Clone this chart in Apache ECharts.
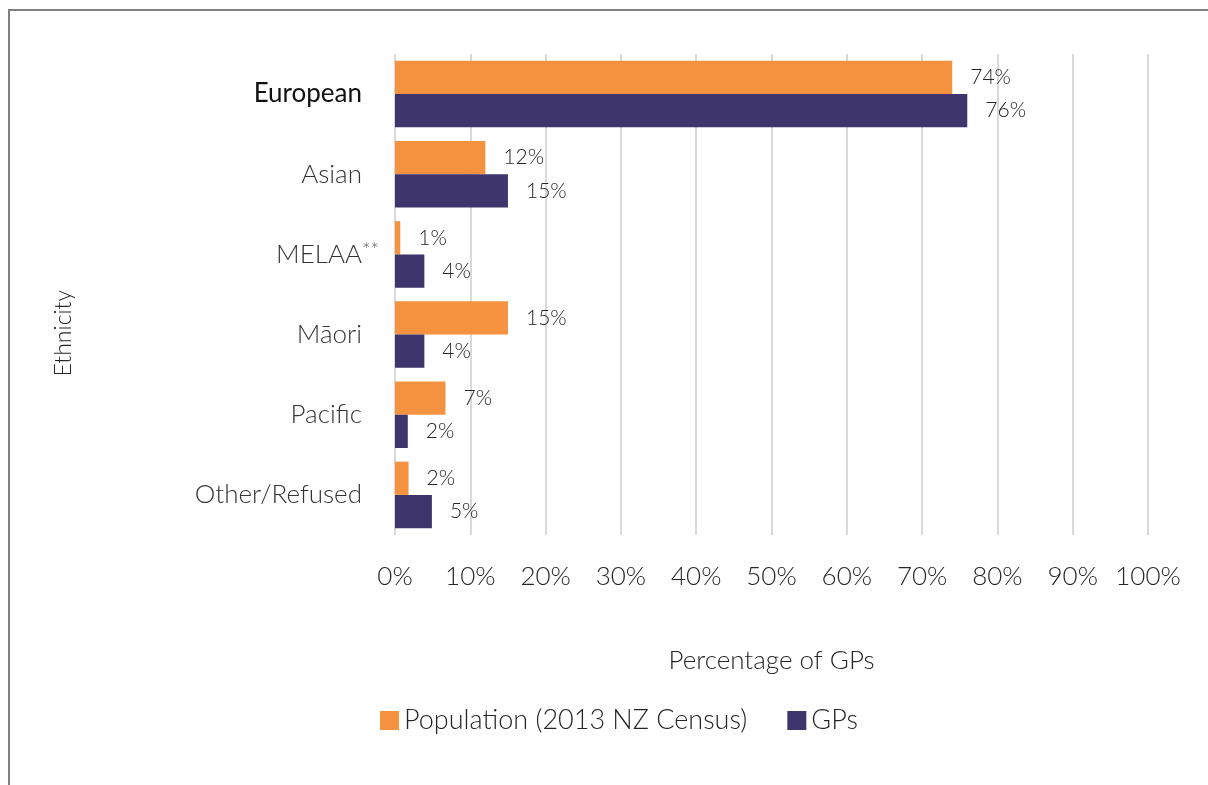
<!DOCTYPE html>
<html>
<head>
<meta charset="utf-8">
<script src="https://cdn.jsdelivr.net/npm/echarts@6/dist/echarts.min.js"></script>
<style>
	html, body { margin: 0; padding: 0; background: #fff; }
	#frame { position: absolute; left: 8px; top: 9px; width: 1210px; height: 790px; border-left: 2px solid #7f7f7f; border-top: 2px solid #7f7f7f; }
	#myChart { position: absolute; left: 0; top: 0; width: 1208px; height: 785px; }
</style>
</head>
<body>
<div id="frame"></div>
<div id="myChart"></div>
<script>
	// 数据
	var categories = ['European', 'Asian', 'MELAA**', 'Māori', 'Pacific', 'Other/Refused'];
	var population = [74, 12, 0.7, 15, 6.7, 1.8];
	var gps = [76, 15, 3.9, 3.9, 1.7, 4.9];
	var xTicks = [0, 10, 20, 30, 40, 50, 60, 70, 80, 90, 100];

	var font = 'Lato, "Open Sans", sans-serif';
	var textColor = '#262626';

	var myChart = echarts.init(document.getElementById('myChart'));
	myChart.setOption({
		backgroundColor: 'transparent',
		textStyle: { fontFamily: font, fontWeight: 300 },
		legend: {
			data: ['Population (2013 NZ Census)', 'GPs'],
			left: 375,
			top: 702,
			itemWidth: 19,
			itemHeight: 19,
			itemGap: 40,
			icon: 'rect',
			textStyle: { color: textColor, fontSize: 27, fontWeight: 300, fontFamily: font }
		},
		graphic: [{
			type: 'text',
			left: 52,
			top: 290,
			rotation: Math.PI / 2,
			style: { text: 'Ethnicity', fill: textColor, fontSize: 23, fontWeight: 300, fontFamily: font }
		}],
		grid: {
			left: 395,
			right: 60,
			top: 54,
			bottom: 250,
			containLabel: false
		},
		xAxis: {
			type: 'value',
			min: xTicks[0],
			max: xTicks[xTicks.length - 1],
			interval: 10,
			name: 'Percentage of GPs',
			nameLocation: 'middle',
			nameGap: 113,
			nameTextStyle: { color: textColor, fontSize: 26, fontWeight: 300, fontFamily: font },
			axisLine: { show: false },
			axisTick: { show: false },
			axisLabel: {
				color: textColor,
				fontSize: 26,
				fontWeight: 300,
				margin: 29,
				formatter: function (v) { return v + '%'; }
			},
			splitLine: { lineStyle: { color: '#d9d9d9', width: 2 } }
		},
		yAxis: {
			type: 'category',
			data: categories,
			inverse: true,
			axisLine: { show: false },
			axisTick: { show: false },
			axisLabel: {
				margin: 33,
				fontSize: 26,
				fontWeight: 300,
				color: '#333',
				formatter: function (v) {
					if (v === 'European') return '{b|' + v + '}';
					if (v === 'MELAA**') return 'MELAA{s|**}';
					return v;
				},
				rich: {
					b: { fontSize: 26, color: '#111', fontWeight: 400, fontFamily: font },
					s: { fontSize: 20, color: '#555', verticalAlign: 'top', padding: [0, -17, 8, 0], fontFamily: font }
				}
			}
		},
		series: [
			{
				name: 'Population (2013 NZ Census)',
				type: 'bar',
				data: population,
				barGap: '0%',
				barCategoryGap: '17%',
				itemStyle: { color: '#F4923F' },
				label: {
					show: true,
					position: 'right',
					distance: 18,
					color: textColor,
					fontSize: 21,
					fontWeight: 300,
					formatter: function (p) { return Math.round(p.value) + '%'; }
				}
			},
			{
				name: 'GPs',
				type: 'bar',
				data: gps,
				barGap: '0%',
				barCategoryGap: '17%',
				itemStyle: { color: '#3E356C' },
				label: {
					show: true,
					position: 'right',
					distance: 18,
					color: textColor,
					fontSize: 21,
					fontWeight: 300,
					formatter: function (p) { return Math.round(p.value) + '%'; }
				}
			}
		]
	});
</script>
</body>
</html>
